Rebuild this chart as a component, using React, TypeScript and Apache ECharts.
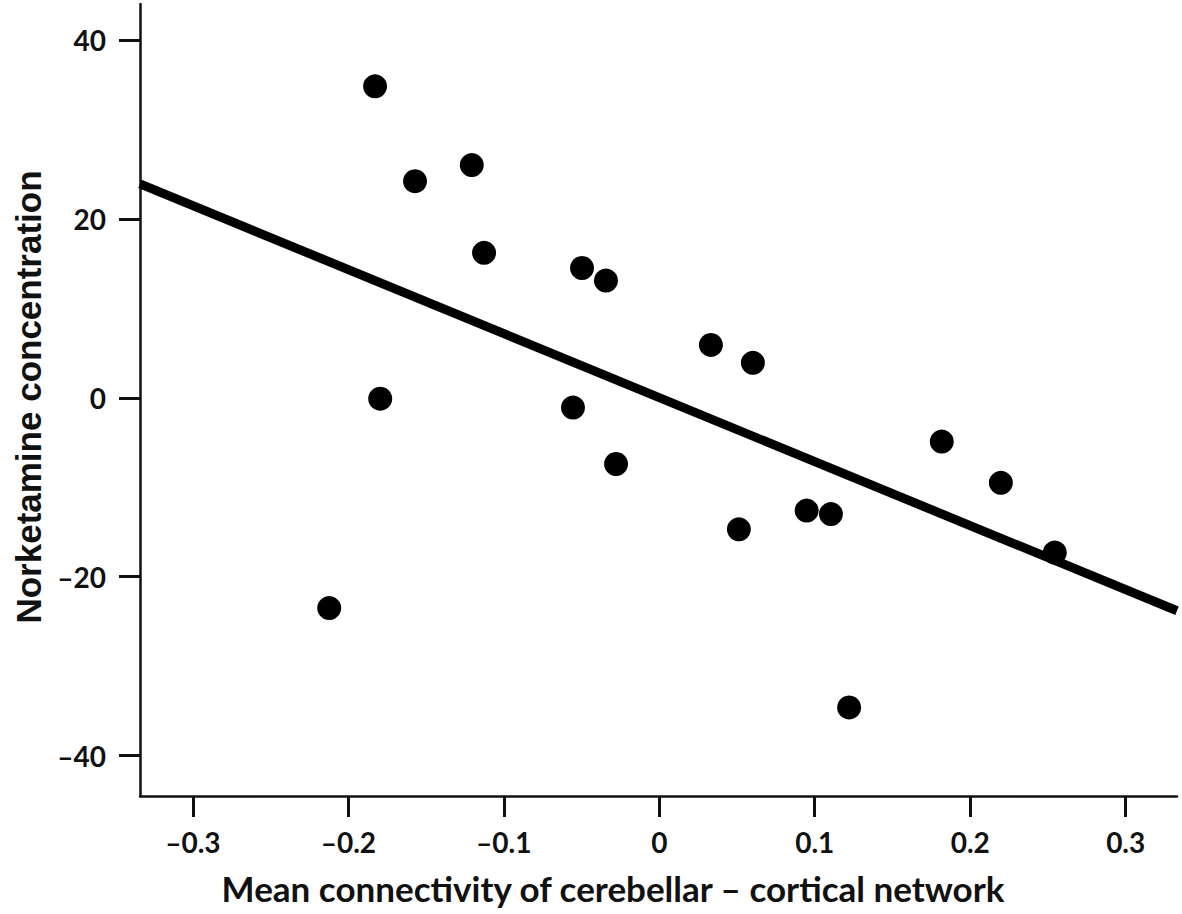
import React, { useEffect, useRef } from "react";
import * as echarts from "echarts";

const connectivity = [
  -0.1828, -0.1571, -0.1206, -0.1127, -0.1795, -0.2123, -0.0497, -0.0343, -0.0555,
  -0.0278, 0.0332, 0.0602, 0.0512, 0.0948, 0.1104, 0.1221, 0.1817, 0.2197, 0.2544,
];
const norketamine = [
  34.8, 24.2, 26.0, 16.2, -0.1, -23.5, 14.5, 13.1, -1.1, -7.4, 5.9, 3.9, -14.7, -12.6,
  -13.0, -34.6, -4.9, -9.5, -17.3,
];
const fitX = [-0.334, 0.333];
const fitY = [23.9, -23.8];
const xTicks = [-0.3, -0.2, -0.1, 0, 0.1, 0.2, 0.3];
const yTicks = [-40, -20, 0, 20, 40];
const xTitle = "Mean connectivity of cerebellar \u2013 cortical network";
const yTitle = "Norketamine concentration";

const fmt = (v: number) => {
  const s = Math.abs(v) < 1e-9 ? "0" : String(Math.round(v * 100) / 100);
  return s.replace("-", "\u2013");
};

export default function App() {
  const ref = useRef<HTMLDivElement>(null);
  useEffect(() => {
    if (!ref.current) return;
    const chart = echarts.init(ref.current, undefined, { renderer: "svg" });
    const labelFont = {
      fontFamily: "Lato",
      fontWeight: "bold" as const,
      fontSize: 28,
      color: "#111",
    };
    chart.setOption({
      animation: false,
      backgroundColor: "#fff",
      grid: { left: 140, top: 4, right: 5, bottom: 118, containLabel: false },
      xAxis: {
        type: "value",
        min: -0.334,
        max: 0.333,
        splitLine: { show: false },
        axisLine: { show: true, onZero: false, lineStyle: { color: "#111", width: 2.5 } },
        axisTick: {
          show: true,
          customValues: xTicks,
          length: 21,
          inside: false,
          lineStyle: { color: "#111", width: 3 },
        },
        axisLabel: {
          show: true,
          customValues: xTicks,
          margin: 32,
          formatter: (v: number) => fmt(v),
          ...labelFont,
        },
      },
      yAxis: {
        type: "value",
        min: -44.5,
        max: 44,
        splitLine: { show: false },
        axisLine: { show: true, onZero: false, lineStyle: { color: "#111", width: 2.5 } },
        axisTick: {
          show: true,
          customValues: yTicks,
          length: 21,
          inside: false,
          lineStyle: { color: "#111", width: 3 },
        },
        axisLabel: {
          show: true,
          customValues: yTicks,
          margin: 34,
          formatter: (v: number) => fmt(v),
          ...labelFont,
        },
      },
      graphic: [
        {
          type: "text",
          x: 613,
          y: 888,
          style: {
            text: xTitle,
            fontFamily: "Lato",
            fontWeight: "bold",
            fontSize: 35,
            fill: "#111",
            textAlign: "center",
            textVerticalAlign: "middle",
          },
        },
        {
          type: "text",
          x: 28,
          y: 397,
          rotation: Math.PI / 2,
          style: {
            text: yTitle,
            fontFamily: "Liberation Sans",
            fontWeight: "bold",
            fontSize: 35,
            fill: "#111",
            textAlign: "center",
            textVerticalAlign: "middle",
          },
        },
      ],
      series: [
        {
          type: "line",
          data: fitX.map((x, i) => [x, fitY[i]]),
          symbol: "none",
          lineStyle: { color: "#000", width: 9 },
          z: 2,
        },
        {
          type: "scatter",
          data: connectivity.map((x, i) => [x, norketamine[i]]),
          symbolSize: 24,
          itemStyle: { color: "#000", opacity: 1 },
          z: 3,
        },
      ],
    });
    return () => chart.dispose();
  }, []);
  return (
    <div
      ref={ref}
      style={{ position: "fixed", left: 0, top: 0, width: 1182, height: 914 }}
    />
  );
}
